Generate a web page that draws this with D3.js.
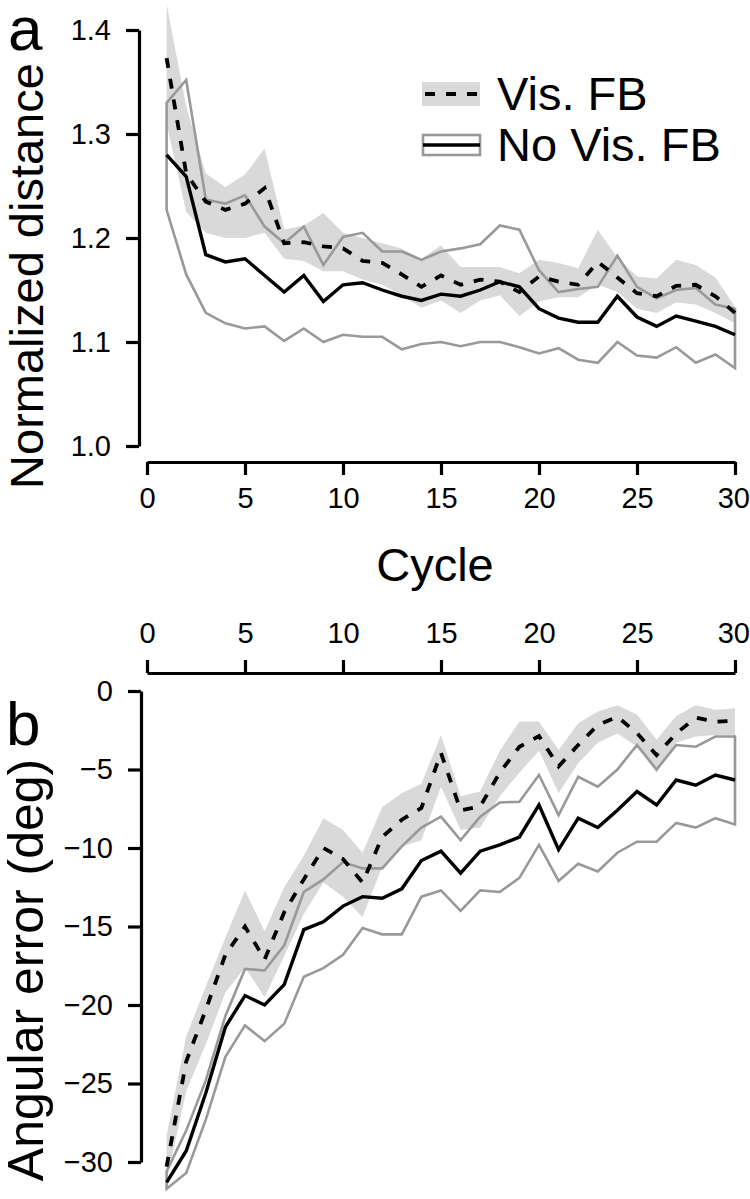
<!DOCTYPE html>
<html><head><meta charset="utf-8">
<script src="https://cdn.jsdelivr.net/npm/d3@7"></script>
<style>
html,body{margin:0;padding:0;background:#fff;}
svg text{font-family:"Liberation Sans",Arial,Helvetica,sans-serif;fill:#000;}
</style></head>
<body>
<svg id="chart" width="750" height="1199"></svg>
<script>
// ---------- data ----------
const cycles = [1,2,3,4,5,6,7,8,9,10,11,12,13,14,15,16,17,18,19,20,21,22,23,24,25,26,27,28,29,30];
const xTicks = [0,5,10,15,20,25,30];
const yTicksA = [1.0,1.1,1.2,1.3,1.4];
const yTicksB = [0,-5,-10,-15,-20,-25,-30];

// Panel a: normalized distance
const aVisMean  = [1.373,1.262,1.235,1.227,1.233,1.248,1.195,1.196,1.192,1.19,1.178,1.176,1.165,1.153,1.164,1.155,1.16,1.158,1.148,1.163,1.158,1.155,1.177,1.162,1.147,1.144,1.154,1.155,1.144,1.128];
const aVisUpper = [1.425,1.327,1.262,1.249,1.261,1.286,1.208,1.212,1.224,1.205,1.2,1.195,1.19,1.18,1.193,1.172,1.172,1.172,1.166,1.179,1.176,1.171,1.208,1.181,1.163,1.161,1.179,1.174,1.162,1.134];
const aVisLower = [1.31,1.225,1.205,1.2,1.2,1.205,1.18,1.178,1.168,1.168,1.16,1.155,1.145,1.133,1.14,1.128,1.14,1.145,1.125,1.139,1.143,1.143,1.155,1.148,1.132,1.128,1.138,1.136,1.128,1.118];
const aNoMean   = [1.28,1.259,1.184,1.177,1.18,1.164,1.148,1.164,1.139,1.155,1.157,1.15,1.144,1.14,1.146,1.144,1.15,1.158,1.153,1.132,1.123,1.119,1.119,1.144,1.124,1.115,1.125,1.12,1.115,1.107];
const aNoUpper  = [1.33,1.352,1.237,1.233,1.241,1.211,1.195,1.211,1.174,1.201,1.205,1.187,1.187,1.179,1.187,1.19,1.194,1.212,1.208,1.169,1.148,1.151,1.153,1.183,1.153,1.142,1.15,1.152,1.136,1.132];
const aNoLower  = [1.227,1.165,1.128,1.118,1.113,1.115,1.101,1.113,1.1,1.107,1.105,1.105,1.093,1.098,1.1,1.096,1.1,1.1,1.095,1.089,1.094,1.083,1.08,1.1,1.087,1.085,1.095,1.08,1.088,1.075];

// Panel b: angular error (deg)
const bVisMean  = [-30.3,-23.6,-20.3,-16.8,-15.0,-17.1,-14.1,-12.0,-10.0,-10.7,-12.2,-9.3,-8.2,-7.45,-3.95,-7.6,-7.35,-5.2,-3.55,-2.87,-4.8,-3.44,-2.17,-1.64,-2.68,-4.08,-2.7,-1.7,-1.95,-1.9];
const bVisUpper = [-28.3,-22.0,-18.8,-15.7,-12.7,-15.3,-12.5,-10.5,-8.1,-8.85,-10.3,-7.4,-6.5,-5.9,-2.8,-6.7,-6.4,-3.8,-1.95,-1.95,-3.75,-2.06,-1.3,-0.9,-1.5,-3.1,-1.6,-0.9,-1.2,-1.1];
const bVisLower = [-31.2,-25.5,-22.5,-19.2,-17.6,-19.5,-16.9,-14.2,-12.2,-13.1,-14.4,-11.2,-9.9,-9.5,-6.1,-8.85,-8.7,-6.7,-5.2,-3.8,-6.5,-4.6,-3.3,-2.7,-3.55,-5.2,-3.3,-2.9,-2.8,-2.8];
const bNoMean   = [-31.3,-29.3,-25.6,-21.4,-19.4,-20.0,-18.7,-15.2,-14.7,-13.7,-13.1,-13.2,-12.6,-10.8,-10.2,-11.6,-10.2,-9.8,-9.3,-7.26,-10.1,-8.1,-8.7,-7.6,-6.4,-7.26,-5.67,-6.0,-5.35,-5.67];
const bNoUpper  = [-30.6,-28.0,-24.8,-20.7,-17.7,-17.8,-16.2,-12.8,-12.0,-10.9,-11.3,-11.3,-9.9,-8.7,-8.0,-9.5,-8.0,-7.1,-7.05,-5.35,-7.9,-5.46,-6.1,-5.0,-3.44,-5.0,-3.44,-3.55,-2.9,-2.9];
const bNoLower  = [-31.7,-30.7,-27.3,-23.3,-21.3,-22.3,-21.2,-18.2,-17.65,-16.8,-15.1,-15.5,-15.5,-13.1,-12.7,-14.0,-12.7,-12.8,-11.9,-9.8,-12.1,-11.0,-11.5,-10.3,-9.6,-9.6,-8.4,-8.7,-8.1,-8.5];

const legendLabels = ["Vis. FB","No Vis. FB"];

// ---------- styles ----------
const BAND = "#d9d9d9", GRAY = "#999999", BLACK = "#000";
const TICKFONT = 29, TITLEFONT = 47, PANELFONT = 62;

const svg = d3.select("#chart");

function drawPanel(cfg){
  const {x, y, visMean, visUpper, visLower, noMean, noUpper, noLower} = cfg;
  const g = svg.append("g");
  const idx = d3.range(cycles.length);
  g.append("path")
    .attr("d", d3.area().x(i=>x(cycles[i])).y0(i=>y(visLower[i])).y1(i=>y(visUpper[i]))(idx))
    .attr("fill", BAND).attr("stroke","none");
  const poly = idx.map(i=>[x(cycles[i]), y(noUpper[i])])
    .concat(idx.slice().reverse().map(i=>[x(cycles[i]), y(noLower[i])]));
  g.append("path")
    .attr("d", d3.line()(poly) + "Z")
    .attr("fill","none").attr("stroke",GRAY).attr("stroke-width",2.6).attr("stroke-linejoin","miter");
  g.append("path")
    .attr("d", d3.line().x(i=>x(cycles[i])).y(i=>y(noMean[i]))(idx))
    .attr("fill","none").attr("stroke",BLACK).attr("stroke-width",3.4);
  g.append("path")
    .attr("d", d3.line().x(i=>x(cycles[i])).y(i=>y(visMean[i]))(idx))
    .attr("fill","none").attr("stroke",BLACK).attr("stroke-width",3.8)
    .attr("stroke-dasharray","10,11");
}

function styleAxis(sel){
  sel.selectAll("path.domain").attr("stroke",BLACK).attr("stroke-width",3.2);
  sel.selectAll(".tick line").attr("stroke",BLACK).attr("stroke-width",3.2);
  sel.selectAll(".tick text").attr("font-size",TICKFONT).attr("fill",BLACK)
    .attr("font-family",'"Liberation Sans",Arial,Helvetica,sans-serif');
}

// ---------- Panel a ----------
const xA = d3.scaleLinear().domain([0,30]).range([147,735]);
const yA = d3.scaleLinear().domain([1.0,1.4]).range([446,30]);
drawPanel({x:xA, y:yA, visMean:aVisMean, visUpper:aVisUpper, visLower:aVisLower,
           noMean:aNoMean, noUpper:aNoUpper, noLower:aNoLower});

const axAx = svg.append("g").attr("transform","translate(0,462)")
  .call(d3.axisBottom(xA).tickValues(xTicks).tickFormat(d3.format("d")).tickSize(13).tickSizeOuter(0).tickPadding(12));
styleAxis(axAx);
const axAy = svg.append("g").attr("transform","translate(139,0)")
  .call(d3.axisLeft(yA).tickValues(yTicksA).tickFormat(d3.format(".1f")).tickSize(13).tickSizeOuter(0).tickPadding(15));
styleAxis(axAy);
axAx.selectAll(".tick text").filter(d=>d===30).attr("text-anchor","end").attr("dx","0.5em");

svg.append("text").attr("x",435).attr("y",581).attr("text-anchor","middle")
  .attr("font-size",TITLEFONT).text("Cycle");
svg.append("text").attr("transform","translate(43,276) rotate(-90)").attr("text-anchor","middle")
  .attr("font-size",TITLEFONT).text("Normalized distance");
svg.append("text").attr("x",8).attr("y",50).attr("font-size",PANELFONT).text("a");

// legend
const lg = svg.append("g");
lg.append("rect").attr("x",422).attr("y",82).attr("width",58).attr("height",24).attr("fill",BAND);
lg.append("line").attr("x1",425).attr("x2",480).attr("y1",94).attr("y2",94)
  .attr("stroke",BLACK).attr("stroke-width",3.8).attr("stroke-dasharray","10,11");
lg.append("rect").attr("x",423).attr("y",135).attr("width",57).attr("height",20)
  .attr("fill","#fff").attr("stroke",GRAY).attr("stroke-width",2.6);
lg.append("line").attr("x1",423).attr("x2",480).attr("y1",145).attr("y2",145)
  .attr("stroke",BLACK).attr("stroke-width",3.4);
lg.append("text").attr("x",497).attr("y",110).attr("font-size",TITLEFONT).text(legendLabels[0]);
lg.append("text").attr("x",497).attr("y",161).attr("font-size",TITLEFONT).text(legendLabels[1]);

// ---------- Panel b ----------
const xB = d3.scaleLinear().domain([0,30]).range([147,735]);
const yB = d3.scaleLinear().domain([-30,0]).range([1162,691]);
drawPanel({x:xB, y:yB, visMean:bVisMean, visUpper:bVisUpper, visLower:bVisLower,
           noMean:bNoMean, noUpper:bNoUpper, noLower:bNoLower});

const axBx = svg.append("g").attr("transform","translate(0,673)")
  .call(d3.axisTop(xB).tickValues(xTicks).tickFormat(d3.format("d")).tickSize(13).tickSizeOuter(0).tickPadding(17));
styleAxis(axBx);
axBx.selectAll(".tick text").filter(d=>d===30).attr("text-anchor","end").attr("dx","0.5em");
const axBy = svg.append("g").attr("transform","translate(141,0)")
  .call(d3.axisLeft(yB).tickValues(yTicksB).tickFormat(d3.format("d")).tickSize(13).tickSizeOuter(0).tickPadding(15));
styleAxis(axBy);

svg.append("text").attr("transform","translate(43,970) rotate(-90)").attr("text-anchor","middle")
  .attr("font-size",50).text("Angular error (deg)");
svg.append("text").attr("x",6).attr("y",745).attr("font-size",PANELFONT).text("b");
</script>
</body></html>
